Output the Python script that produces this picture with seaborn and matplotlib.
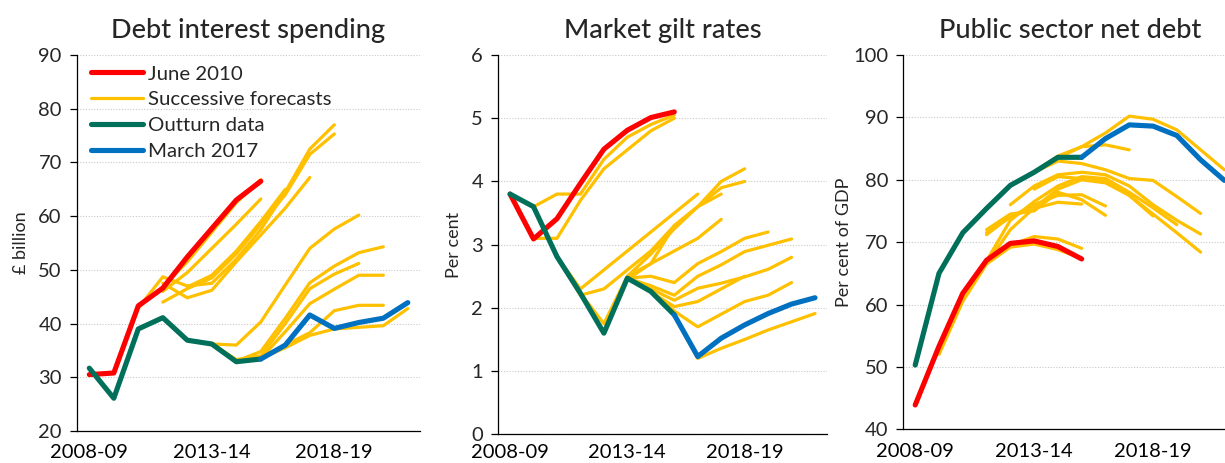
import numpy as np
import pandas as pd
import matplotlib
matplotlib.use("Agg")
import matplotlib.pyplot as plt
import seaborn as sns

nan = np.nan

# --------------------------------
# DATA
# --------------------------------

years = ["2008-09", "2009-10", "2010-11", "2011-12", "2012-13", "2013-14", "2014-15",
         "2015-16", "2016-17", "2017-18", "2018-19", "2019-20", "2020-21", "2021-22"]
shown_labels = ["2008-09", "2013-14", "2018-19"]

# Debt interest spending, £ billion
debt_june2010 = [30.5, 30.8, 43.3, 46.6, 52.4, 57.7, 63.0, 66.5]
debt_outturn = [31.7, 26.1, 39.0, 41.1, 36.9, 36.2, 32.9, 33.4]
debt_march2017 = [nan] * 7 + [33.4, 36.0, 41.6, 39.1, 40.2, 41.0, 43.9]
debt_forecasts = [
    [nan, nan, 43.0, 46.8, 51.5, 57.0, 62.5, 66.8],
    [nan, nan, 42.9, 48.7, 47.0, 47.5, 52.0, 57.5, 64.5, 72.5, 77.0],
    [nan, nan, nan, 44.0, 46.5, 48.5, 53.0, 58.5, 64.0, 71.5, 75.3],
    [nan, nan, nan, 47.5, 44.8, 46.2, 51.5, 56.5, 61.5, 67.2],
    [nan, nan, nan, 46.0, 49.5, 54.0, 58.5, 63.2],
    [nan, nan, nan, nan, 46.8, 49.0, 53.5, 59.0, 65.0],
    [nan, nan, nan, nan, nan, 36.2, 36.0, 40.3, 47.2, 54.0, 57.6, 60.2],
    [nan, nan, nan, nan, nan, 36.2, 33.0, 34.8, 41.0, 47.6, 50.7, 53.2, 54.3],
    [nan, nan, nan, nan, nan, 36.2, 33.3, 34.0, 40.0, 46.5, 49.2, 51.2],
    [nan, nan, nan, nan, nan, nan, 32.9, 33.5, 38.5, 43.7, 46.4, 49.0, 49.0],
    [nan, nan, nan, nan, nan, nan, 32.9, 33.5, 36.0, 38.3, 42.4, 43.4, 43.4],
    [nan, nan, nan, nan, nan, nan, nan, 33.5, 35.5, 37.8, 39.0, 39.3, 39.6, 42.8],
]

# Market gilt rates, per cent
gilt_june2010 = [3.80, 3.09, 3.41, 3.97, 4.51, 4.81, 5.01, 5.10]
gilt_outturn = [3.80, 3.60, 2.81, 2.23, 1.60, 2.47, 2.26, 1.89]
gilt_march2017 = [nan] * 7 + [1.89, 1.23, 1.52, 1.73, 1.91, 2.06, 2.16]
gilt_forecasts = [
    [nan, 3.60, 3.80, 3.80, 4.35, 4.70, 4.90, 5.05],
    [nan, 3.10, 3.10, 3.70, 4.20, 4.50, 4.80, 5.00],
    [nan, nan, 2.81, 2.30, 2.60, 2.90, 3.20, 3.50, 3.80],
    [nan, nan, 2.81, 2.20, 2.30, 2.60, 2.90, 3.30, 3.60, 3.90, 4.00],
    [nan, nan, nan, 2.23, 1.75, 2.50, 2.85, 3.25, 3.60, 4.00, 4.20],
    [nan, nan, nan, nan, 1.60, 2.45, 2.70, 3.30, 3.60, 3.80],
    [nan, nan, nan, nan, nan, 2.50, 2.70, 2.90, 3.10, 3.40],
    [nan, nan, nan, nan, nan, 2.47, 2.50, 2.40, 2.70, 2.89, 3.10, 3.20],
    [nan, nan, nan, nan, nan, 2.47, 2.35, 2.20, 2.50, 2.68, 2.89, 2.99, 3.09],
    [nan, nan, nan, nan, nan, 2.47, 2.30, 2.12, 2.31, 2.39, 2.49, 2.61, 2.80],
    [nan, nan, nan, nan, nan, 2.47, 2.25, 2.02, 2.10, 2.30, 2.50],
    [nan, nan, nan, nan, nan, nan, 2.26, 1.95, 1.70, 1.90, 2.10, 2.20, 2.40],
    [nan, nan, nan, nan, nan, nan, nan, 1.89, 1.20, 1.36, 1.50, 1.65, 1.78, 1.91],
]

# Public sector net debt, per cent of GDP
psnd_june2010 = [43.9, 53.3, 61.8, 67.1, 69.8, 70.2, 69.3, 67.3]
psnd_outturn = [50.3, 65.0, 71.5, 75.4, 79.1, 81.2, 83.6, 83.6]
psnd_march2017 = [nan] * 7 + [83.6, 86.6, 88.8, 88.6, 87.1, 83.2, 79.9]
psnd_forecasts = [
    [nan, 52.0, 60.5, 66.5, 69.2, 69.7, 68.8, 67.4],
    [nan, nan, 61.5, 67.0, 69.5, 70.9, 70.5, 69.0],
    [nan, nan, nan, 71.2, 74.1, 75.4, 76.4, 76.1],
    [nan, nan, nan, 71.5, 74.0, 76.0, 77.5, 77.6, 75.8],
    [nan, nan, nan, 72.0, 74.5, 75.0, 78.0, 76.8, 74.3],
    [nan, nan, nan, 66.5, 72.0, 75.5, 78.5, 80.0, 79.5, 77.5, 74.2],
    [nan, nan, nan, 67.0, 73.5, 76.5, 79.0, 80.5, 80.2, 78.0, 75.5, 72.8],
    [nan, nan, nan, nan, 76.0, 79.0, 80.8, 81.2, 80.8, 79.0, 76.0, 73.5, 71.3],
    [nan, nan, nan, nan, nan, 78.5, 80.5, 80.2, 79.8, 77.5, 74.5, 71.5, 68.4],
    [nan, nan, nan, nan, nan, 81.2, 83.0, 82.6, 81.6, 80.2, 79.9, 77.3, 74.6],
    [nan, nan, nan, nan, nan, 81.2, 83.8, 85.3, 85.6, 84.8],
    [nan, nan, nan, nan, nan, nan, 83.5, 85.3, 87.5, 90.2, 89.7, 88.0, 84.8, 81.6],
]

# --------------------------------
# STYLE
# --------------------------------

sns.set_style("white")
plt.rcParams["font.family"] = ["Lato", "DejaVu Sans"]

RED = "#FF0000"
YELLOW = "#FFC000"
GREEN = "#00705A"
BLUE = "#0070C0"

fig = plt.figure(figsize=(12.25, 4.63), dpi=100)

panels = [
    dict(title="Debt interest spending", ylabel="£ billion", ylim=(20, 90), step=10,
         june=debt_june2010, outturn=debt_outturn, march=debt_march2017, fc=debt_forecasts,
         pos=[0.0629, 0.0691, 0.2800, 0.8121], lpad=7, xpad=9),
    dict(title="Market gilt rates", ylabel="Per cent", ylim=(0, 6), step=1,
         june=gilt_june2010, outturn=gilt_outturn, march=gilt_march2017, fc=gilt_forecasts,
         pos=[0.4068, 0.0620, 0.2681, 0.8192], lpad=7, xpad=7),
    dict(title="Public sector net debt", ylabel="Per cent of GDP", ylim=(40, 100), step=10,
         june=psnd_june2010, outturn=psnd_outturn, march=psnd_march2017, fc=psnd_forecasts,
         pos=[0.7374, 0.0728, 0.2718, 0.8084], lpad=1, xpad=10),
]


def draw_series(ax, values, color, lw, label=None, z=2):
    df = pd.DataFrame({"x": np.arange(len(values)), "y": values}).dropna()
    sns.lineplot(data=df, x="x", y="y", ax=ax, color=color, linewidth=lw,
                 label=label, zorder=z, legend=False, solid_capstyle="round",
                 solid_joinstyle="round")


axes = []
for p in panels:
    ax = fig.add_axes(p["pos"])
    axes.append(ax)

    for i, f in enumerate(p["fc"]):
        draw_series(ax, f, YELLOW, 2.3, label="Successive forecasts" if i == 0 else None, z=2)
    draw_series(ax, p["june"], RED, 3.7, label="June 2010", z=4)
    draw_series(ax, p["outturn"], GREEN, 3.7, label="Outturn data", z=5)
    draw_series(ax, p["march"], BLUE, 3.7, label="March 2017", z=5)

    lo, hi = p["ylim"]
    ax.set_ylim(lo, hi)
    ax.set_yticks(np.arange(lo, hi + p["step"] / 2, p["step"]))
    ax.set_xlim(-0.5, len(years) - 0.5)

    # labelled categories with no tick mark, tick marks on the category boundaries
    ax.set_xticks(np.arange(len(years)))
    ax.set_xticklabels([y if y in shown_labels else "" for y in years])
    ax.set_xticks(np.arange(-0.5, len(years)), minor=True)
    ax.tick_params(axis="x", which="major", length=0, pad=p["xpad"], labelsize=14.5,
                   colors="black")
    ax.tick_params(axis="x", which="minor", length=5, width=0.9, direction="out", color="black")
    ax.tick_params(axis="y", length=5, width=0.9, direction="out", pad=6, labelsize=14.5,
                   color="black", left=True)

    ax.yaxis.grid(True, linestyle=(0, (1, 1.5)), color="#C8C8C8", linewidth=0.8)
    ax.xaxis.grid(False)
    ax.set_axisbelow(True)

    for side in ["top", "right"]:
        ax.spines[side].set_visible(False)
    for side in ["left", "bottom"]:
        ax.spines[side].set_color("black")
        ax.spines[side].set_linewidth(0.9)

    ax.set_xlabel("")
    ax.set_ylabel(p["ylabel"], fontsize=13, labelpad=p["lpad"])
    ax.set_title(p["title"], fontsize=19.5, pad=12, fontweight="medium")

# legend, first panel only
ax = axes[0]
handles, labels = ax.get_legend_handles_labels()
order = ["June 2010", "Successive forecasts", "Outturn data", "March 2017"]
hmap = dict(zip(labels, handles))
leg = ax.legend([hmap[o] for o in order], order, loc="upper left", frameon=False,
                fontsize=14.7, handlelength=2.55, handletextpad=0.25, labelspacing=0.42,
                borderaxespad=0.1, bbox_to_anchor=(0.01, 1.0))

fig.savefig("out.png", dpi=100)
